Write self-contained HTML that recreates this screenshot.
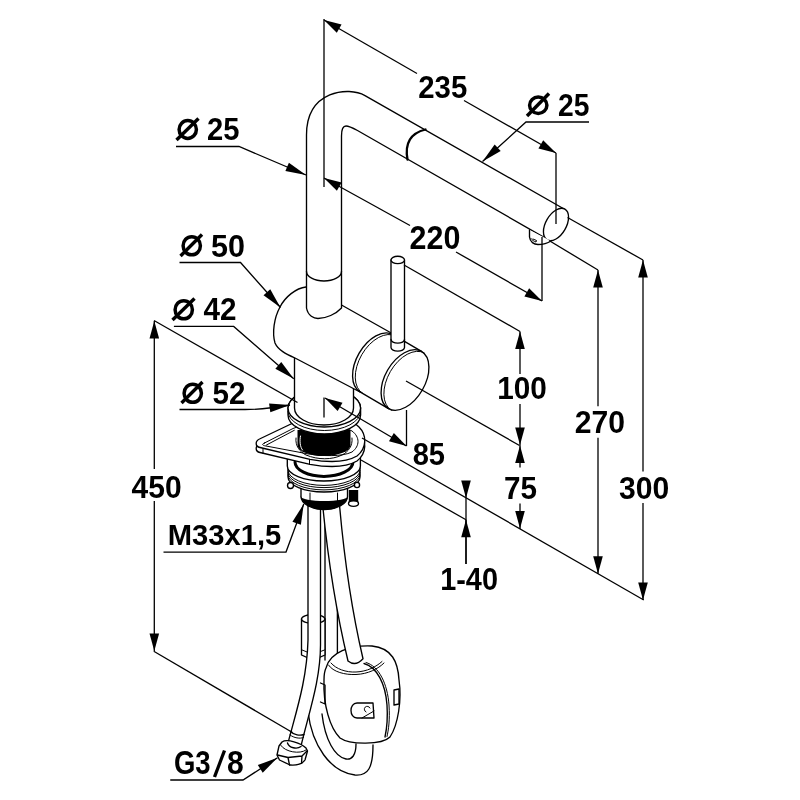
<!DOCTYPE html>
<html><head><meta charset="utf-8"><style>
html,body{margin:0;padding:0;background:#fff;width:800px;height:800px;overflow:hidden}
svg{display:block}
.o{fill:none;stroke:#000;stroke-width:1.35;stroke-linejoin:round;stroke-linecap:round}
.wf{fill:#fff}
.t{stroke-width:1}
.thick{stroke-width:3}
.blk{fill:#000;stroke:none}
.d{fill:none;stroke:#000;stroke-width:1.3}
.a{fill:#000;stroke:none}
svg text{font-family:"Liberation Sans",sans-serif;font-weight:bold;font-size:32px;fill:#000}
</style></head><body>
<svg width="800" height="800" viewBox="0 0 800 800">
<g>
<path class="o" d="M325,506 L325,660 M337.4,506 L337.4,660"/>
<path class="wf o" d="M301.5,619 L301.5,655 Q313,662 325,655 L325,619 Z"/>
<ellipse class="wf o" cx="313.2" cy="619" rx="11.7" ry="4.5"/>
<path class="o t" d="M302,650 Q313,656 324.5,650"/>
<path class="wf" d="M308,716 C312,745 330,772 355,775 C368,776 373,768 373,745 L356,744 C356,755 352,760 346,759 C335,757 325,740 322,718 Z"/>
<path class="o" d="M308,712 C312,745 330,772 355,775 C368,776 373,768 373,745 M356,744 C356,755 352,760 346,759 C335,757 325,740 322,714"/>
<path class="wf o" d="M308,506 L308,640 C307,680 296,712 288,743 L301,746 C309,712 320.5,680 320.5,645 L320.5,506 Z"/>
<path class="o" d="M290.5,731.5 C294,735 300,736 304,734.5"/>
<path class="o t" d="M290,735 C294,738 300,739 303.5,737.5"/>
<path class="wf o" d="M282,742 C287,738.5 301,743 306,748 L307.5,751 L305,760 C302,764.5 296,765.5 290,765 L279.5,760 L277,755 L279,746 Z"/>
<path class="o t" d="M281,745.5 C285,752 300,754.5 306,750"/>
<path class="o" d="M287.5,743 C289,748 297,749.5 301,746.5"/>
<path class="o" d="M277.5,755 L288,757.5 L302,756 L307,751 M288,757.5 L289.5,765 M302,756 L301.5,763"/>
<path class="wf o" d="M326,668 C330,652 350,645 372,646 C392,648 398,662 399,680 C402,700 398,725 390,737 C382,745 350,745 340,738 C330,728 323,705 324,680 C324,674 325,670 326,668 Z"/>
<path class="o t" d="M328.5,665 C333,672 345,675 356,674.5 C368,674 378,669 384,663"/>
<path class="o t" d="M331,663 C336,669 346,672.5 356,672 C367,671.5 376,667 382,661.5"/>
<path class="wf o" d="M322.75,506 Q331,590 348,661 Q355.5,667 363,658.75 Q347,590 339.6,506 Z"/>
<path class="o" d="M364,663.5 C377,667 385.5,684 387,705 C388,720 386.5,730 385,737"/>
<path class="o t" d="M366,662.5 C379,666 387.5,684 389,705 C390,720 388.5,730 387,736.5"/>
<path class="wf o" d="M357,703 L373,703 L374,718 L357,718 C349,718 349,703 357,703 Z"/>
<path class="o t" d="M362,718 L374,711 M366,712 A3,3 0 1 1 370,708"/>
<path class="o" d="M394,690 L399,689 L399,704 L394,705 Z M320.5,683 L325,685 L325,704 L320.5,702"/>
<path class="blk" d="M348.8,490 L358.2,490 L358.2,503.5 L348.8,503.5 Z"/>
<ellipse class="wf o" cx="353.5" cy="503.5" rx="5" ry="2.8"/>
<path class="wf o" d="M301,478 L301,496.5 A23.25,13 0 0 0 347.5,496.5 L347.5,478 Z"/>
<path class="blk" d="M300.5,495.5 A23.75,14 0 0 0 348,495.5 L347.5,496.5 A23.25,4.5 0 0 1 301,496.5 Z"/>
<path class="o t" d="M310,493 L310,501.5 M337.5,493 L337.5,501.5"/>
<path class="wf o" d="M288,462 L288,477 A36,15 0 0 0 360,477 L360,462 Z"/>
<path class="o t" d="M288,470.4 A36,15 0 0 0 360,470.4"/>
<path class="o t" d="M288,472.6 A36,15 0 0 0 360,472.6"/>
<path class="o t" d="M288,474.9 A36,15 0 0 0 360,474.9"/>
<circle class="wf o" cx="290.5" cy="485.5" r="3"/>
<circle class="wf o" cx="357" cy="485" r="2.6"/>
<path class="wf o" d="M287.3,455 L287.3,466 A36.55,15 0 0 0 360.4,466 L360.4,455 Z"/>
<path class="o thick" d="M295,462 A29,14.4 0 0 0 353,462"/>
<path class="wf o" transform="translate(0,5)" d="M259.5,439 L292,423.5 C310,414 346,415 359,427 C367,435 367,448 357,456 C345,463 325,462 310,459.3 L260,447.5 C255,446.5 255,441 259.5,439 Z"/>
<path class="o t" d="M263,448.5 L263,453.5 M309.5,459.5 L309.5,464.5"/>
<path class="wf o" d="M259.5,439 L292,423.5 C310,414 346,415 359,427 C367,435 367,448 357,456 C345,463 325,462 310,459.3 L260,447.5 C255,446.5 255,441 259.5,439 Z"/>
<path class="o t" d="M264.5,443 L293,428.5 C306,422 340,423 352,431 C360,437 360,446 352,452 C342,457 322,456 308,453.9 L266,446 C262,445.5 261.5,444 264.5,443 Z"/>
<path class="o t" d="M266.5,445 L294.3,430.3"/>
<path class="blk" d="M297.5,430 L297.5,445 A26.5,11 0 0 0 350.5,445 L350.5,430 Z"/>
<path class="o t" style="stroke:#fff" d="M300.5,436 C299.5,441 300,447 302.5,450"/>
<path class="o t" d="M296,438 C295,446 300,452 306,455 C318,460 332,460 342,455 C348,452 353,446 352,438"/>
<path class="wf o" d="M288,408 A36.3,19 0 0 1 360.6,408 L360.6,415 A36.3,19 0 0 1 288,415 Z"/>
<ellipse class="wf o" cx="324.3" cy="408" rx="36.3" ry="19"/>
<path class="o t" d="M288,411.5 A36.3,19 0 0 0 360.6,411.5"/>
<path class="wf o" d="M294.5,350 L294.5,408 A29.5,17 0 0 0 353.5,408 L353.5,380 Z"/>
<path class="wf" d="M306,287 C296,288 285,297 280,307 C274,318 272,333 275,343 C278,350 286,354 295,358 L360,392 L393,334.6 L341,305 L341,290 Z"/>
<path class="o" d="M306,287 C296,288 285,297 280,307 C274,318 272,333 275,343 C278,350 286,354 295,358 L360,392 M341.5,305 L393,334"/>
<path class="wf o" d="M393,334.6 A33,20 -60 0 0 360,391.8 L388.5,408.6 L421.5,351.4 Z"/>
<path class="o t" d="M395.6,336.1 A33,20 -60 0 0 362.6,393.3"/>
<ellipse class="wf o" cx="405" cy="380" rx="33" ry="20" transform="rotate(-60 405 380)"/>
<path class="o t" d="M424.2,352.9 A33,20 -60 0 0 391.2,410.1"/>
<path class="wf o" d="M391,260 L391,347.5 A6.75,3.7 0 0 0 404.5,347.5 L404.5,260 Z"/>
<ellipse class="wf o" cx="397.75" cy="260" rx="6.75" ry="3.7"/>
<path class="o" d="M391,339.5 A6.75,3.7 0 0 0 404.5,339.5"/>
<path class="wf o" d="M306.5,308 L306.5,135 C306.5,90 349,86.4 365,95.55 L565,209.5 L548,239.6 L357.5,130.5 C351,127 349,126 346,126 C343,126 341.5,128 341.5,136 L341.5,308 C336,314 326,318.5 318,318.5 C314,318.5 308,316 306.5,308 Z"/>
<ellipse class="wf o" cx="556" cy="224.5" rx="17.75" ry="10.25" transform="rotate(-60 556 224.5)"/>
<path class="o" style="stroke-width:2.3" d="M425.5,129.5 Q403,135 407.5,159.5"/>
<path class="o" d="M306.5,271.5 A17.5,9.5 0 0 0 341.5,271.5"/>
<path class="wf o" d="M529.5,230 L529.5,237 C530,242 534,244.5 538,244.5 C543,244.5 548,243 551,241"/>
<path class="o t" d="M531,238.5 C532,240 534,241.5 536,242 L536.5,240.5 L533,239"/>
</g>
<g>
<path class="d" d="M324.00,19.00L324.00,187.00"/>
<path class="d" d="M324.00,20.00L417.00,73.50"/>
<path class="d" d="M464.00,100.50L556.00,153.00"/>
<path class="a" d="M324.00,20.00L336.79,32.87L341.57,24.54Z"/>
<path class="a" d="M556.00,153.00L543.21,140.13L538.43,148.46Z"/>
<path class="d" d="M556.00,153.00L556.00,224.00"/>
<path class="d" d="M589.00,122.00L526.00,122.00L482.50,161.50"/>
<path class="a" d="M482.50,161.50L500.70,151.05L494.65,144.39Z"/>
<path class="d" d="M176.00,146.50L239.00,146.50L306.00,175.00"/>
<path class="a" d="M306.00,175.00L288.90,162.83L285.37,171.12Z"/>
<path class="d" d="M324.00,178.00L410.00,225.50"/>
<path class="d" d="M456.00,252.00L542.00,301.00"/>
<path class="a" d="M324.00,178.00L336.88,190.78L341.60,182.42Z"/>
<path class="a" d="M542.00,301.00L529.12,288.22L524.40,296.58Z"/>
<path class="d" d="M542.00,237.00L542.00,301.00"/>
<path class="d" d="M549.00,240.50L598.00,270.00"/>
<path class="d" d="M598.00,270.00L598.00,406.30"/>
<path class="d" d="M598.00,437.70L598.00,573.75"/>
<path class="a" d="M598.00,270.00L593.20,287.50L602.80,287.50Z"/>
<path class="a" d="M598.00,573.75L602.80,556.25L593.20,556.25Z"/>
<path class="d" d="M567.50,217.50L643.00,260.00"/>
<path class="d" d="M643.00,260.00L643.00,471.50"/>
<path class="d" d="M643.00,503.00L643.00,600.00"/>
<path class="a" d="M643.00,260.00L638.20,277.50L647.80,277.50Z"/>
<path class="a" d="M643.00,600.00L647.80,582.50L638.20,582.50Z"/>
<path class="d" d="M404.00,265.00L520.00,331.50"/>
<path class="d" d="M520.00,331.50L520.00,374.00"/>
<path class="d" d="M520.00,404.00L520.00,467.50"/>
<path class="d" d="M520.00,503.50L520.00,529.00"/>
<path class="a" d="M520.00,331.50L515.20,349.00L524.80,349.00Z"/>
<path class="a" d="M520.00,445.00L524.80,427.50L515.20,427.50Z"/>
<path class="a" d="M520.00,445.50L515.20,463.00L524.80,463.00Z"/>
<path class="a" d="M520.00,528.50L524.80,511.00L515.20,511.00Z"/>
<path class="d" d="M406.00,381.00L519.50,445.50"/>
<path class="d" d="M362.00,438.00L643.75,600.00"/>
<path class="d" d="M361.00,460.00L466.00,519.80"/>
<path class="d" d="M466.00,481.00L466.00,564.00"/>
<path class="a" d="M466.00,498.00L470.80,480.50L461.20,480.50Z"/>
<path class="d" d="M466.00,519.80L466.00,564.00"/>
<path class="a" d="M466.00,519.80L461.20,537.30L470.80,537.30Z"/>
<path class="d" d="M324.00,397.50L324.00,417.50"/>
<path class="d" d="M325.00,398.00L406.50,446.00"/>
<path class="a" d="M325.00,398.00L337.64,411.02L342.52,402.74Z"/>
<path class="a" d="M406.50,446.00L393.86,432.98L388.98,441.26Z"/>
<path class="d" d="M406.50,410.00L406.50,446.00"/>
<path class="d" d="M154.30,321.00L154.30,469.00"/>
<path class="d" d="M154.30,501.00L154.30,651.00"/>
<path class="a" d="M154.30,321.00L149.50,338.50L159.10,338.50Z"/>
<path class="a" d="M154.30,651.00L159.10,633.50L149.50,633.50Z"/>
<path class="d" d="M154.00,320.50L297.50,402.50"/>
<path class="d" d="M153.75,651.25L292.50,732.50"/>
<path class="d" d="M179.50,262.50L240.50,262.50L280.50,307.50"/>
<path class="a" d="M280.50,307.50L270.24,289.19L263.52,295.17Z"/>
<path class="d" d="M173.90,326.40L233.70,326.40L293.75,378.75"/>
<path class="a" d="M293.75,378.75L281.25,361.89L275.34,368.67Z"/>
<path class="d" d="M179.5,409.5 L245,409.5 Q265,409.5 290,405"/>
<path class="a" d="M290.00,405.00L269.07,403.44L270.34,412.35Z"/>
<path class="d" d="M163.50,552.10L286.00,552.10L303.75,504.00"/>
<path class="a" d="M303.75,504.00L292.43,521.67L300.87,524.79Z"/>
<path class="d" d="M170.25,780.00L243.00,780.00L277.50,757.75"/>
<path class="a" d="M277.50,757.75L257.83,765.08L262.71,772.64Z"/>
</g>
<g style="filter:grayscale(1)">
<text transform="matrix(0.9173 0 0 0.9955 418.28 97.60)">235</text>
<ellipse cx="538.25" cy="105.25" rx="8.65" ry="8.15" style="fill:none;stroke:#000;stroke-width:3.5"/>
<path d="M527,116 L549,93.5" style="fill:none;stroke:#000;stroke-width:3.4"/>
<text transform="matrix(0.8824 0 0 0.9773 558.12 115.50)">25</text>
<ellipse cx="187.75" cy="129.5" rx="8.65" ry="8.9" style="fill:none;stroke:#000;stroke-width:3.5"/>
<path d="M176.5,140 L198.5,118.5" style="fill:none;stroke:#000;stroke-width:3.4"/>
<text transform="matrix(0.9118 0 0 0.9773 207.09 140.00)">25</text>
<text transform="matrix(0.9510 0 0 1.0227 409.55 248.50)">220</text>
<ellipse cx="191.75" cy="245.75" rx="8.65" ry="9.1" style="fill:none;stroke:#000;stroke-width:3.5"/>
<path d="M180.5,256 L202,234.5" style="fill:none;stroke:#000;stroke-width:3.4"/>
<text transform="matrix(0.9545 0 0 1.0000 211.05 256.50)">50</text>
<ellipse cx="183.75" cy="309.75" rx="8.65" ry="9.1" style="fill:none;stroke:#000;stroke-width:3.5"/>
<path d="M172.5,320 L194.5,298.5" style="fill:none;stroke:#000;stroke-width:3.4"/>
<text transform="matrix(0.9265 0 0 0.9773 203.50 320.00)">42</text>
<ellipse cx="192.75" cy="393.25" rx="8.65" ry="9.1" style="fill:none;stroke:#000;stroke-width:3.5"/>
<path d="M181.5,403 L202.5,382" style="fill:none;stroke:#000;stroke-width:3.4"/>
<text transform="matrix(0.9242 0 0 0.9545 212.58 403.50)">52</text>
<text transform="matrix(0.9300 0 0 0.9545 497.14 399.00)">100</text>
<text transform="matrix(0.9412 0 0 0.9864 574.76 433.20)">270</text>
<text transform="matrix(0.9088 0 0 0.9773 412.69 465.00)">85</text>
<text transform="matrix(0.9265 0 0 0.9545 504.07 499.00)">75</text>
<text transform="matrix(0.9412 0 0 0.9909 619.06 498.50)">300</text>
<text transform="matrix(0.9385 0 0 0.9636 131.50 497.80)">450</text>
<text transform="matrix(0.9115 0 0 0.9407 167.78 545.30)">M33x1,5</text>
<text transform="matrix(0.9016 0 0 1.0000 440.20 589.50)">1-40</text>
<text transform="matrix(0.8598 0 0 1.0227 173.89 774.25)">G3</text>
<path d="M214.5,777 L224.5,750.5" style="stroke:#000;stroke-width:3.3;fill:none"/>
<text transform="matrix(0.9375 0 0 1.0227 227.06 774.25)">8</text>
</g>
</svg></body></html>
